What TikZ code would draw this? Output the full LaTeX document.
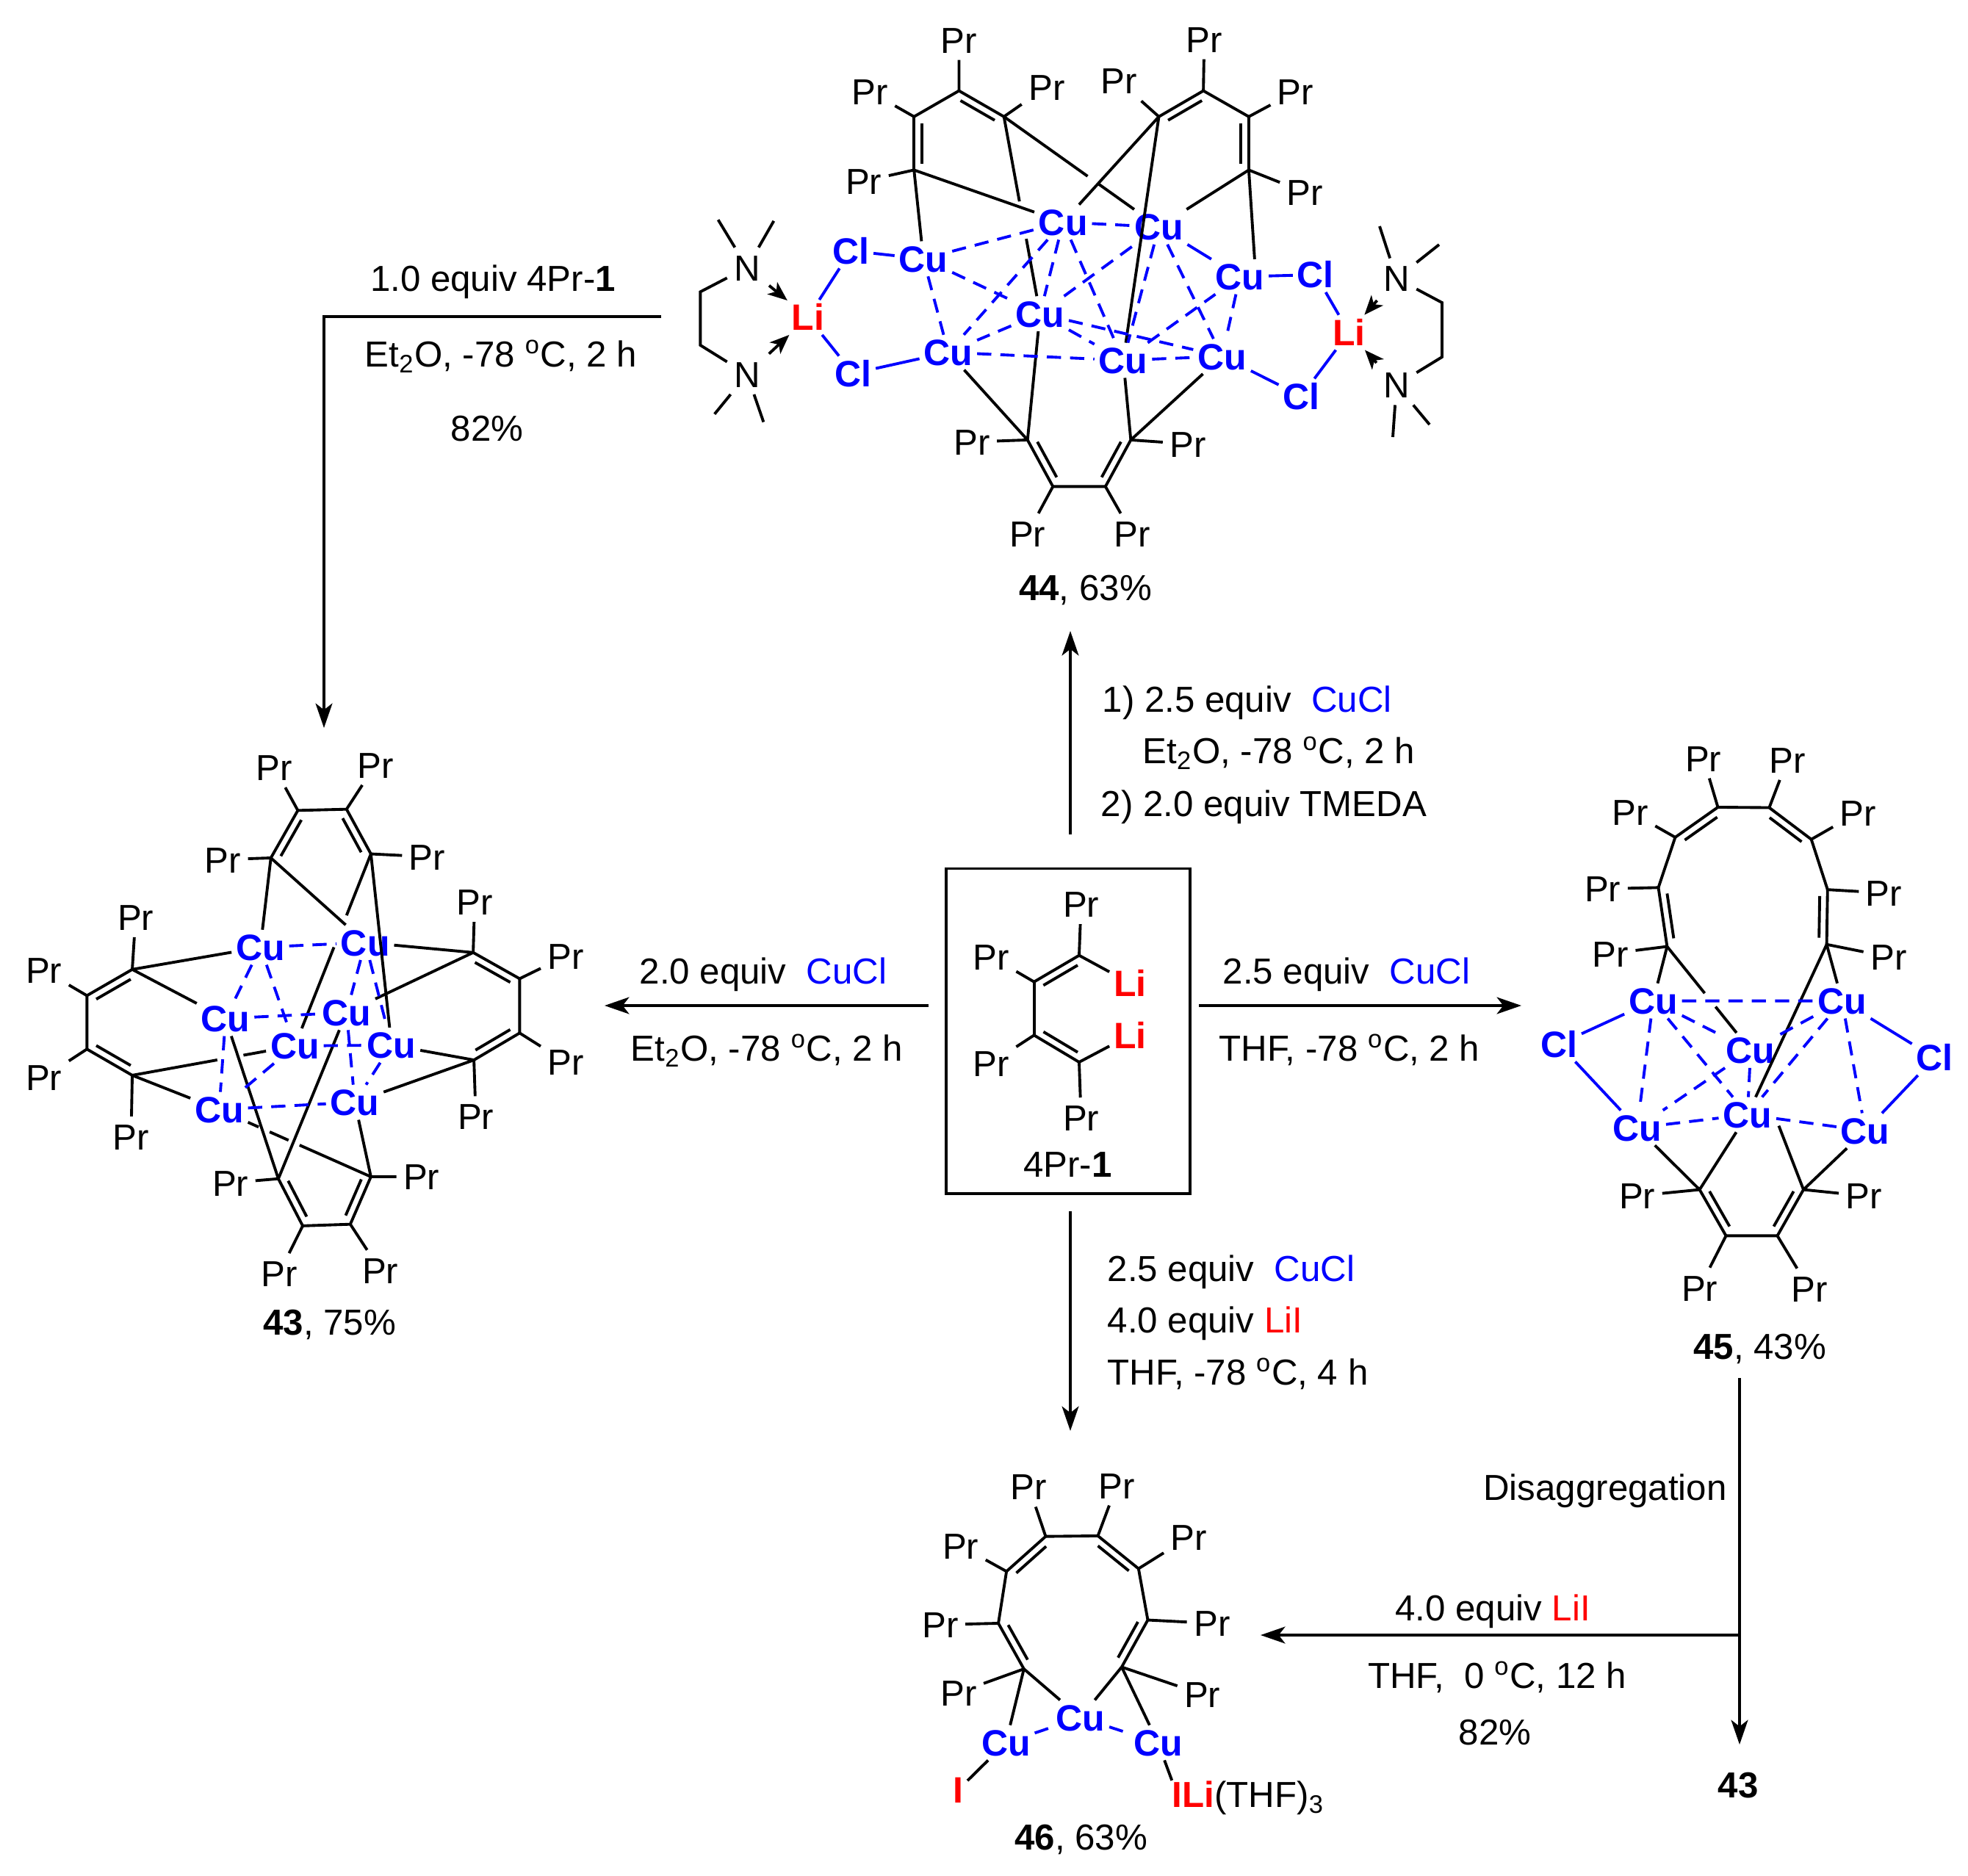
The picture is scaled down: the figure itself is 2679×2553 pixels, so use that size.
\documentclass[tikz,border=0pt]{standalone}
\usepackage{fontspec}
\setmainfont{Liberation Sans}
\usetikzlibrary{arrows.meta,calc}

\tikzset{
  every node/.style={font=\fontsize{14}{17}\selectfont},
  bond/.style={line width=1.1pt},
  coord/.style={line width=1.1pt,blue},
  cudash/.style={line width=1.1pt,blue,dash pattern=on 5.5pt off 3.5pt},
  rxn/.style={line width=1.1pt,-{Stealth[length=9.5pt,width=6.5pt,inset=2.5pt]}},
  dative/.style={line width=1.1pt,-{Stealth[length=7.5pt,width=6pt,inset=2pt]},shorten <=1pt},
  pr/.style={inner sep=2.5pt,text height=10.2pt,text depth=0pt},
  cu/.style={pr,inner sep=1.5pt,text=blue,font=\fontsize{14.2}{17}\selectfont\bfseries},
  cl/.style={cu},
  li/.style={cu,text=red},
  lab/.style={inner sep=0pt,text height=10.2pt,text depth=0pt},
}
% inner line of a double bond, third argument is the side
\newcommand{\dbond}[3]{
  \draw[bond] (#1) -- (#2);
  \draw[bond] ($(#1)!.12!(#2)!#3!90:(#2)$) -- ($(#2)!.12!(#1)!#3!-90:(#1)$);
}
% bond with a break where another one passes
\newcommand{\brk}[4]{
  \draw[bond] (#1) -- ($(#1)!#3!(#2)$) ($(#1)!#4!(#2)$) -- (#2);
}

\begin{document}
\begin{tikzpicture}[x=0.01cm,y=-0.01cm]
  \useasboundingbox (0,0) rectangle (2679,2553);

  % 44
  \begin{scope}[shift={(920,0)},xscale=0.606,yscale=0.542]
    \coordinate (h1) at (636,228);
    \coordinate (h2) at (535,293);
    \coordinate (h3) at (535,427);
    \coordinate (h4) at (737,293);
    \coordinate (h5) at (1085,293);
    \coordinate (h6) at (1185,228);
    \coordinate (h7) at (1287,293);
    \coordinate (h8) at (1287,427);
    \coordinate (h9) at (790,1105);
    \coordinate (h10) at (847,1222);
    \coordinate (h11) at (965,1222);
    \coordinate (h12) at (1022,1105);
    \node[pr] (hp1) at (636,100) {Pr};
    \node[pr] (hp2) at (436,230) {Pr};
    \node[pr] (hp3) at (422,455) {Pr};
    \node[pr] (hp4) at (833,218) {Pr};
    \node[pr] (hp5) at (995,203) {Pr};
    \node[pr] (hp6) at (1187,98) {Pr};
    \node[pr] (hp7) at (1392,230) {Pr};
    \node[pr] (hp8) at (1413,483) {Pr};
    \node[pr] (hp9) at (665,1110) {Pr};
    \node[pr] (hp10) at (790,1340) {Pr};
    \node[pr] (hp11) at (1025,1340) {Pr};
    \node[pr] (hp12) at (1150,1115) {Pr};
    \node[cu] (hu1) at (556,650) {Cu};
    \node[cu] (hu2) at (870,558) {Cu};
    \node[cu] (hu3) at (818,788) {Cu};
    \node[cu] (hu4) at (1085,570) {Cu};
    \node[cu] (hu5) at (1267,695) {Cu};
    \node[cu] (hu6) at (612,885) {Cu};
    \node[cu] (hu7) at (1005,905) {Cu};
    \node[cu] (hu8) at (1227,895) {Cu};
    \node[cl] (hc1) at (393,630) {Cl};
    \node[cl] (hc2) at (398,938) {Cl};
    \node[cl] (hc3) at (1437,690) {Cl};
    \node[cl] (hc4) at (1405,995) {Cl};
    \node[li] (hl1) at (297,797) {Li};
    \node[li] (hl2) at (1512,835) {Li};
    \node[pr] (hn1) at (160,672) {N};
    \node[pr] (hn2) at (160,940) {N};
    \coordinate (he1) at (55,733);
    \coordinate (he2) at (55,867);
    \coordinate (hm1) at (95,552);
    \coordinate (hm2) at (220,555);
    \coordinate (hm3) at (87,1040);
    \coordinate (hm4) at (197,1060);
    \node[lab] (hname) at (920,1475) {\textbf{44}, 63\%};
  \end{scope}
  \coordinate (he3) at (1963,412);
  \coordinate (he4) at (1963,486);
  \coordinate (hm5) at (1878,308);
  \coordinate (hm6) at (1959,333);
  \coordinate (hm7) at (1896,595);
  \coordinate (hm8) at (1946,578);
  \node[pr] (hn3) at (1901,379) {N};
  \node[pr] (hn4) at (1901,524) {N};

  \draw[bond] (h1) -- (h2) (h6) -- (h7) (h10) -- (h11);
  \dbond{h2}{h3}{3pt}
  \dbond{h1}{h4}{-3pt}
  \dbond{h5}{h6}{-3pt}
  \dbond{h7}{h8}{-3pt}
  \dbond{h9}{h10}{3pt}
  \dbond{h11}{h12}{3pt}
  \draw[bond] (h1) -- (hp1) (h2) -- (hp2) (h3) -- (hp3) (h4) -- (hp4)
    (h5) -- (hp5) (h6) -- (hp6) (h7) -- (hp7) (h8) -- (hp8)
    (h9) -- (hp9) (h10) -- (hp10) (h11) -- (hp11) (h12) -- (hp12);
  \draw[bond] (h3) -- (hu1) (h3) -- (hu2) (h5) -- (hu2) (h5) -- (hu7)
    (h8) -- (hu4) (h8) -- (hu5.50) (h9) -- (hu6) (h9) -- (hu3)
    (h12) -- (hu7) (h12) -- (hu8);
  \brk{h4}{hu3}{.43}{.62}
  \brk{h4}{hu4}{.54}{.61}
  \draw[coord] (hc1) -- (hu1) (hc2) -- (hu6) (hu5) -- (hc3) (hu8) -- (hc4)
    (hu4) -- (hu5)
    (hc1) -- (hl1) (hc2) -- (hl1) (hc3) -- (hl2) (hc4) -- (hl2);
  \draw[cudash] (hu1) -- (hu2) (hu1) -- (hu3) (hu1) -- (hu6) (hu2) -- (hu4)
    (hu2) -- (hu3) (hu2) -- (hu6) (hu2) -- (hu7) (hu3) -- (hu4)
    (hu3) -- (hu6) (hu3) -- (hu7) (hu3) -- (hu8) (hu4) -- (hu7)
    (hu4) -- (hu8) (hu6) -- (hu7) (hu7) -- (hu8) (hu7) -- (hu5) (hu5) -- (hu8);
  \draw[bond] (hn1) -- (he1) -- (he2) -- (hn2)
    (hn1) -- (hm1) (hn1) -- (hm2) (hn2) -- (hm3) (hn2) -- (hm4);
  \draw[bond] (hn3) -- (he3) -- (he4) -- (hn4)
    (hn3) -- (hm5) (hn3) -- (hm6) (hn4) -- (hm7) (hn4) -- (hm8);
  \draw[dative] (hn1) -- (hl1);
  \draw[dative] (hn2) -- (hl1);
  \draw[dative] (hn3) -- (hl2);
  \draw[dative] (hn4) -- (hl2);

  % 43
  \begin{scope}[shift={(0,980)},xscale=0.510,yscale=0.548]
    \coordinate (t1) at (723,343);
    \coordinate (t2) at (795,225);
    \coordinate (t3) at (925,222);
    \coordinate (t4) at (990,333);
    \coordinate (l1) at (353,620);
    \coordinate (l2) at (232,685);
    \coordinate (l3) at (232,818);
    \coordinate (l4) at (353,883);
    \coordinate (r1) at (1263,578);
    \coordinate (r2) at (1387,643);
    \coordinate (r3) at (1387,778);
    \coordinate (r4) at (1265,845);
    \coordinate (b1) at (743,1140);
    \coordinate (b2) at (808,1257);
    \coordinate (b3) at (935,1253);
    \coordinate (b4) at (990,1135);
    \node[pr] (tp1) at (595,347) {Pr};
    \node[pr] (tp2) at (732,118) {Pr};
    \node[pr] (tp3) at (1002,112) {Pr};
    \node[pr] (tp4) at (1140,340) {Pr};
    \node[pr] (lp1) at (362,490) {Pr};
    \node[pr] (lp2) at (117,622) {Pr};
    \node[pr] (lp3) at (117,888) {Pr};
    \node[pr] (lp4) at (350,1035) {Pr};
    \node[pr] (rp1) at (1267,452) {Pr};
    \node[pr] (rp2) at (1510,587) {Pr};
    \node[pr] (rp3) at (1510,850) {Pr};
    \node[pr] (rp4) at (1270,985) {Pr};
    \node[pr] (bp1) at (615,1150) {Pr};
    \node[pr] (bp2) at (745,1375) {Pr};
    \node[pr] (bp3) at (1015,1367) {Pr};
    \node[pr] (bp4) at (1125,1135) {Pr};
    \node[cu] (ua) at (695,565) {Cu};
    \node[cu] (ub) at (975,553) {Cu};
    \node[cu] (uc) at (602,742) {Cu};
    \node[cu] (ud) at (925,727) {Cu};
    \node[cu] (ue) at (787,810) {Cu};
    \node[cu] (uf) at (1045,808) {Cu};
    \node[cu] (ug) at (585,968) {Cu};
    \node[cu] (uh) at (947,950) {Cu};
    \node[lab] (tname) at (880,1495) {\textbf{43}, 75\%};
  \end{scope}

  \draw[bond] (t2) -- (t3) (l2) -- (l3) (r2) -- (r3) (b2) -- (b3);
  \dbond{t1}{t2}{-3pt}
  \dbond{t3}{t4}{-3pt}
  \dbond{l1}{l2}{3pt}
  \dbond{l3}{l4}{3pt}
  \dbond{r1}{r2}{-3pt}
  \dbond{r3}{r4}{-3pt}
  \dbond{b1}{b2}{3pt}
  \dbond{b3}{b4}{3pt}
  \draw[bond] (t1) -- (tp1) (t2) -- (tp2) (t3) -- (tp3) (t4) -- (tp4)
    (l1) -- (lp1) (l2) -- (lp2) (l3) -- (lp3) (l4) -- (lp4)
    (r1) -- (rp1) (r2) -- (rp2) (r3) -- (rp3) (r4) -- (rp4)
    (b1) -- (bp1) (b2) -- (bp2) (b3) -- (bp3) (b4) -- (bp4);
  \draw[bond] (t1) -- (ua) (t1) -- (ub) (t4) -- (uf) (l1) -- (ua) (l1) -- (uc)
    (l4) -- (ug) (r1) -- (ub) (r1) -- (ud) (r4) -- (uf) (r4) -- (uh)
    (b1) -- (uc) (b1) -- (ud) (b4) -- (uh);
  \brk{t4}{ue}{.32}{.486}
  \brk{l4}{ue}{.523}{.684}
  \draw[bond] (b4) -- ($(b4)!.47!(ug)$) ($(b4)!.543!(ug)$) -- ($(b4)!.667!(ug)$) ($(b4)!.74!(ug)$) -- (ug);
  \draw[cudash] (ua) -- (ub) (ua) -- (uc) (ua) -- (ue) (ub) -- (ud) (ub) -- (uf)
    (uc) -- (ud) (uc) -- (ug) (ud) -- (uh) (ue) -- (uf) (ue) -- (ug)
    (uf) -- (uh) (ug) -- (uh);

  % 45
  \begin{scope}[shift={(2060,980)},xscale=0.395,yscale=0.561]
    \coordinate (a1) at (530,550);
    \coordinate (a2) at (500,407);
    \coordinate (a3) at (558,285);
    \coordinate (a4) at (705,212);
    \coordinate (a5) at (882,213);
    \coordinate (a6) at (1027,290);
    \coordinate (a7) at (1083,412);
    \coordinate (a8) at (1080,545);
    \coordinate (d1) at (642,1140);
    \coordinate (d2) at (733,1252);
    \coordinate (d3) at (910,1252);
    \coordinate (d4) at (1000,1140);
    \coordinate (dq) at (915,985);
    \node[pr] (ap1) at (335,567) {Pr};
    \node[pr] (ap2) at (308,410) {Pr};
    \node[pr] (ap3) at (403,223) {Pr};
    \node[pr] (ap4) at (655,93) {Pr};
    \node[pr] (ap5) at (945,97) {Pr};
    \node[pr] (ap6) at (1188,225) {Pr};
    \node[pr] (ap7) at (1277,420) {Pr};
    \node[pr] (ap8) at (1293,575) {Pr};
    \node[pr] (dp1) at (427,1155) {Pr};
    \node[pr] (dp2) at (642,1378) {Pr};
    \node[pr] (dp3) at (1020,1380) {Pr};
    \node[pr] (dp4) at (1208,1155) {Pr};
    \node[cu] (up) at (482,682) {Cu};
    \node[cu] (uq) at (818,802) {Cu};
    \node[cu] (ur) at (1133,682) {Cu};
    \node[cu] (us) at (427,990) {Cu};
    \node[cu] (ut) at (807,958) {Cu};
    \node[cu] (uu) at (1213,997) {Cu};
    \node[cl] (ac1) at (157,787) {Cl};
    \node[cl] (ac2) at (1452,820) {Cl};
    \node[lab] (aname) at (850,1520) {\textbf{45}, 43\%};
  \end{scope}

  \draw[bond] (a2) -- (a3) (a4) -- (a5) (a6) -- (a7) (d2) -- (d3);
  \dbond{a1}{a2}{-3pt}
  \dbond{a3}{a4}{-3pt}
  \dbond{a5}{a6}{-3pt}
  \dbond{a7}{a8}{-3pt}
  \dbond{d1}{d2}{3pt}
  \dbond{d3}{d4}{3pt}
  \draw[bond] (a1) -- (ap1) (a2) -- (ap2) (a3) -- (ap3) (a4) -- (ap4)
    (a5) -- (ap5) (a6) -- (ap6) (a7) -- (ap7) (a8) -- (ap8)
    (d1) -- (dp1) (d2) -- (dp2) (d3) -- (dp3) (d4) -- (dp4);
  \draw[bond] (a1) -- (up) (a8) -- (ur) (a8) -- (ut)
    (d1) -- (us) (d1) -- (ut) (d4) -- (dq) (d4) -- (uu);
  \brk{a1}{uq}{.45}{.58}
  \draw[coord] (ac1) -- (up) (ac1) -- (us) (ur) -- (ac2) (uu) -- (ac2);
  \draw[cudash] (up) -- (ur) (up) -- (uq) (up) -- (ut) (up) -- (us)
    (ur) -- (uq) (ur) -- (ut) (ur) -- (uu) (uq) -- (us) (uq) -- (ut)
    (us) -- (ut) (ut) -- (uu);

  % 46
  \begin{scope}[shift={(1220,1970)},xscale=0.395,yscale=0.372]
    \coordinate (e1) at (440,812);
    \coordinate (e2) at (352,645);
    \coordinate (e3) at (380,455);
    \coordinate (e4) at (515,327);
    \coordinate (e5) at (695,325);
    \coordinate (e6) at (835,445);
    \coordinate (e7) at (867,633);
    \coordinate (e8) at (777,805);
    \node[pr] (ep1) at (215,898) {Pr};
    \node[pr] (ep2) at (152,650) {Pr};
    \node[pr] (ep3) at (222,362) {Pr};
    \node[pr] (ep4) at (457,145) {Pr};
    \node[pr] (ep5) at (760,140) {Pr};
    \node[pr] (ep6) at (1008,330) {Pr};
    \node[pr] (ep7) at (1088,645) {Pr};
    \node[pr] (ep8) at (1055,905) {Pr};
    \node[cu] (uv) at (378,1082) {Cu};
    \node[cu] (uw) at (635,990) {Cu};
    \node[cu] (ux) at (902,1082) {Cu};
    \node[li] (ei) at (213,1255) {I};
    \node[lab,anchor=west] (eli) at (950,1270) {\textcolor{red}{\bfseries ILi}(THF)\textsubscript{3}};
    \node[lab] (ename) at (637,1425) {\textbf{46}, 63\%};
  \end{scope}

  \draw[bond] (e2) -- (e3) (e4) -- (e5) (e6) -- (e7);
  \dbond{e1}{e2}{-3pt}
  \dbond{e3}{e4}{-3pt}
  \dbond{e5}{e6}{-3pt}
  \dbond{e7}{e8}{-3pt}
  \draw[bond] (e1) -- (ep1) (e2) -- (ep2) (e3) -- (ep3) (e4) -- (ep4)
    (e5) -- (ep5) (e6) -- (ep6) (e7) -- (ep7) (e8) -- (ep8);
  \draw[bond] (e1) -- (uv) (e1) -- (uw) (e8) -- (uw) (e8) -- (ux)
    (uv) -- (ei) (ux) -- (eli.north west);
  \draw[cudash] (uv) -- (uw) (uw) -- (ux);

  % 4Pr-1
  \begin{scope}[shift={(1270,1160)},xscale=0.3333,yscale=0.3333]
    \coordinate (f1) at (597,422);
    \coordinate (f2) at (413,530);
    \coordinate (f3) at (413,748);
    \coordinate (f4) at (597,858);
    \node[pr] (fp1) at (605,212) {Pr};
    \node[pr] (fp2) at (238,428) {Pr};
    \node[pr] (fp3) at (238,862) {Pr};
    \node[pr] (fp4) at (605,1085) {Pr};
    \node[li] (fl1) at (805,535) {Li};
    \node[li] (fl2) at (805,748) {Li};
    \node[lab] (fname) at (550,1275) {4Pr-\textbf{1}};
    \node[draw,line width=1.1pt,inner sep=0pt,minimum width=3.32cm,minimum height=4.42cm] (mbox) at (552,731) {};
  \end{scope}
  \draw[bond] (f2) -- (f3);
  \dbond{f1}{f2}{3pt}
  \dbond{f3}{f4}{3pt}
  \draw[bond] (f1) -- (fp1) (f2) -- (fp2) (f3) -- (fp3) (f4) -- (fp4)
    (f1) -- (fl1) (f4) -- (fl2);

  % arrows
  \coordinate (up0) at (1457,1136);
  \coordinate (up1) at (1457,859);
  \coordinate (lf0) at (1264,1369);
  \coordinate (lf1) at (823,1369);
  \coordinate (rt0) at (1632,1369);
  \coordinate (rt1) at (2071,1369);
  \coordinate (dn0) at (1457,1649);
  \coordinate (dn1) at (1457,1948);
  \coordinate (ln0) at (900,431);
  \coordinate (ln1) at (441,431);
  \coordinate (ln2) at (441,991);
  \coordinate (dg0) at (2368,1876);
  \coordinate (dg1) at (2368,2226);
  \coordinate (dg2) at (2368,2375);
  \coordinate (dg3) at (1716,2226);
  \draw[rxn] (up0) -- (up1);
  \draw[rxn] (lf0) -- (lf1);
  \draw[rxn] (rt0) -- (rt1);
  \draw[rxn] (dn0) -- (dn1);
  \draw[rxn] (ln0) -- (ln1) -- (ln2);
  \draw[rxn] (dg0) -- (dg2);
  \draw[rxn] (dg1) -- (dg3);

  % conditions
  \node[lab] (ta1) at (671,379) {1.0 equiv 4Pr-\textbf{1}};
  \node[lab] (ta2) at (682,482) {Et\textsubscript{2}O, -78 \textsuperscript{o}C, 2 h};
  \node[lab] (ta3) at (663,583) {82\%};
  \node[lab,anchor=west] (tb1) at (1500,952) {1) 2.5 equiv\ \ \textcolor{blue}{CuCl}};
  \node[lab,anchor=west] (tb2) at (1555,1022) {Et\textsubscript{2}O, -78 \textsuperscript{o}C, 2 h};
  \node[lab,anchor=west] (tb3) at (1498,1094) {2) 2.0 equiv TMEDA};
  \node[lab] (tc1) at (1039,1322) {2.0 equiv\ \ \textcolor{blue}{CuCl}};
  \node[lab] (tc2) at (1044,1427) {Et\textsubscript{2}O, -78 \textsuperscript{o}C, 2 h};
  \node[lab] (td1) at (1833,1322) {2.5 equiv\ \ \textcolor{blue}{CuCl}};
  \node[lab] (td2) at (1837,1427) {THF, -78 \textsuperscript{o}C, 2 h};
  \node[lab,anchor=west] (te1) at (1507,1727) {2.5 equiv\ \ \textcolor{blue}{CuCl}};
  \node[lab,anchor=west] (te2) at (1507,1797) {4.0 equiv \textcolor{red}{LiI}};
  \node[lab,anchor=west] (te3) at (1507,1868) {THF, -78 \textsuperscript{o}C, 4 h};
  \node[lab] (tf1) at (2185,2025) {Disaggregation};
  \node[lab] (tf2) at (2032,2189) {4.0 equiv \textcolor{red}{LiI}};
  \node[lab] (tf3) at (2038,2281) {THF,\ \ 0 \textsuperscript{o}C, 12 h};
  \node[lab] (tf4) at (2035,2358) {82\%};
  \node[lab] (tf5) at (2366,2430) {\textbf{43}};
\end{tikzpicture}
\end{document}
